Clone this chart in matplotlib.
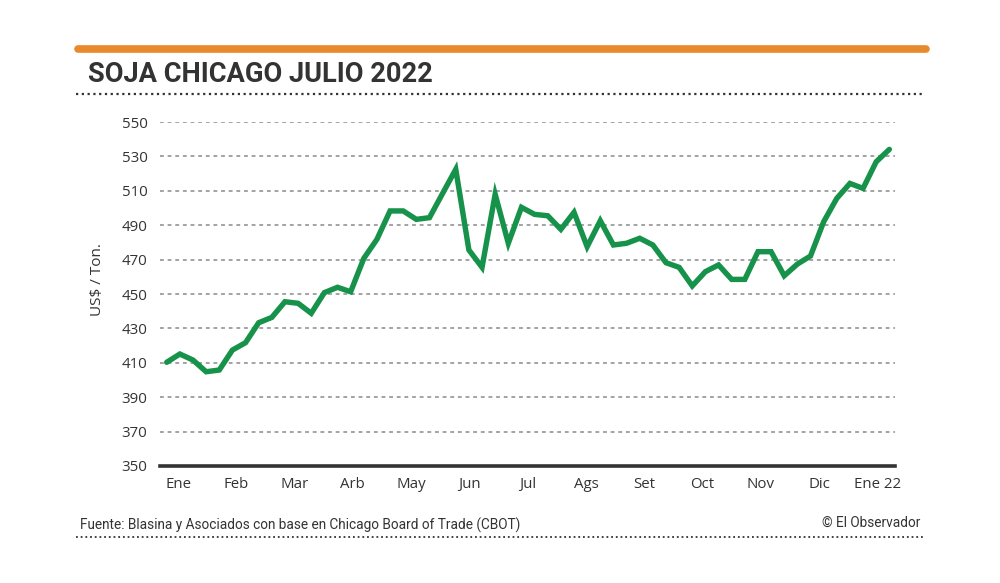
import matplotlib
matplotlib.use("Agg")
import matplotlib.pyplot as plt
from matplotlib.lines import Line2D
import numpy as np

# ---- data ----
values = [410.3, 415.1, 411.6, 404.8, 405.8, 417.4, 421.7, 433.3, 436.4, 445.5,
          444.6, 438.8, 450.8, 453.9, 451.3, 470.7, 481.8, 498.3, 498.3, 493.4,
          494.4, 508.5, 522.5, 475.6, 465.5, 508.0, 479.5, 500.4, 496.3, 495.5,
          487.6, 497.5, 477.5, 492.6, 478.5, 479.5, 482.4, 478.5, 468.2, 465.5,
          454.7, 463.0, 466.9, 458.5, 458.5, 474.6, 474.6, 460.6, 467.4, 472.1,
          492.0, 505.6, 514.3, 511.4, 526.9, 534.1]
month_labels = ["Ene", "Feb", "Mar", "Arb", "May", "Jun", "Jul", "Ags", "Set",
                "Oct", "Nov", "Dic", "Ene 22"]
y_ticks = [350, 370, 390, 410, 430, 450, 470, 490, 510, 530, 550]

title = "SOJA CHICAGO JULIO 2022"
ylabel = "US$ / Ton."
source = "Fuente: Blasina y Asociados con base en Chicago Board of Trade (CBOT)"
credit = "© El Observador"

GREEN = "#17924B"
ORANGE = "#E8892B"
DARK = "#333333"

cond = ["Liberation Sans Narrow", "Roboto", "DejaVu Sans"]
tickfont = ["Open Sans", "DejaVu Sans"]

fig = plt.figure(figsize=(10, 5.83), dpi=100)
fig.patch.set_facecolor("white")

ax = fig.add_axes([0.16, 0.2007, 0.735, 0.590])
x = np.arange(len(values))
ax.plot(x, values, color=GREEN, lw=3.9, solid_joinstyle="miter", solid_capstyle="round", zorder=3, clip_on=False)

ax.set_xlim(-0.51, 55.43)
ax.set_ylim(350, 550)
for s in ["top", "right", "left"]:
    ax.spines[s].set_visible(False)
ax.spines["bottom"].set_color(DARK)
ax.spines["bottom"].set_linewidth(2.6)

for yv in y_ticks[1:]:
    ax.axhline(yv, color="#8a8a8a", lw=1.1, ls=(0, (2.5, 2.5)), zorder=1)

ax.set_yticks(y_ticks)
ax.set_yticklabels([str(v) for v in y_ticks], family=tickfont, fontsize=10.8, color=DARK)
xt = [0.86 + 4.435 * i for i in range(len(month_labels))]
ax.set_xticks(xt)
ax.set_xticklabels(month_labels, family=tickfont, fontsize=10.8, color=DARK)
ax.tick_params(axis="both", length=0)
ax.tick_params(axis="y", pad=9)
ax.tick_params(axis="x", pad=8)

fig.text(0.097, 1 - 280 / 583, ylabel, rotation=90, ha="center", va="center",
         family=tickfont, fontsize=11, color=DARK)

# header
fig.add_artist(Line2D([0.078, 0.926], [1 - 49 / 583, 1 - 49 / 583], color=ORANGE, lw=5.5,
                      solid_capstyle="round", transform=fig.transFigure))
fig.text(0.088, 1 - 75 / 583, title, ha="left", va="center", family=cond,
         fontweight="bold", fontsize=19.6, color=DARK)
fig.add_artist(Line2D([0.076, 0.925], [1 - 94 / 583, 1 - 94 / 583], color=DARK, lw=1.6,
                      ls=(0, (1, 1.6)), transform=fig.transFigure))

# footer
fig.text(0.08, 1 - 525 / 583, source, ha="left", va="center", family=cond,
         fontsize=9.8, color=DARK)
fig.text(0.92, 1 - 523 / 583, credit, ha="right", va="center", family=cond,
         fontsize=9.8, color=DARK)
fig.add_artist(Line2D([0.076, 0.925], [1 - 537 / 583, 1 - 537 / 583], color=DARK, lw=1.3,
                      ls=(0, (1, 1.6)), transform=fig.transFigure))

fig.savefig("out.png", dpi=100, facecolor="white")
